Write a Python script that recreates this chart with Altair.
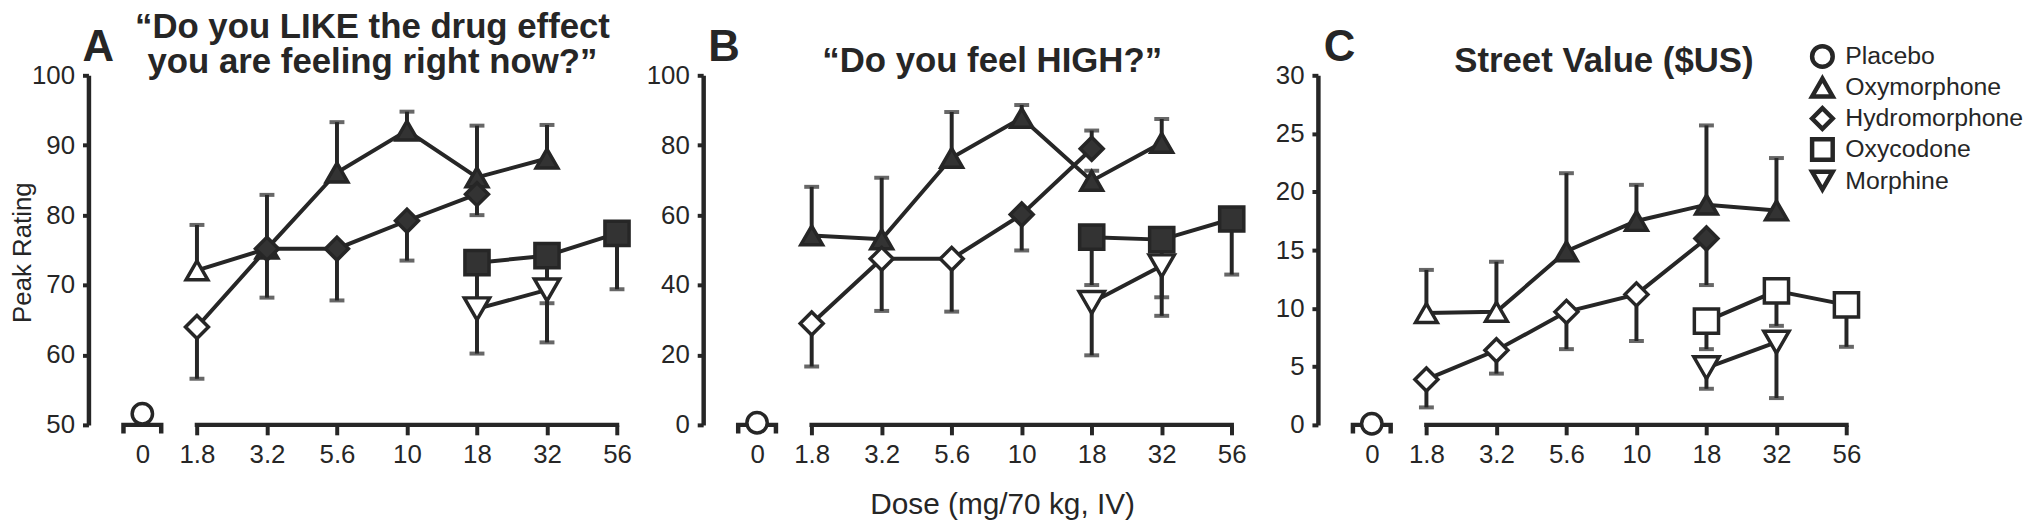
import altair as alt
import pandas as pd

FONT = "Liberation Sans"
DARK = "#262626"
FILL = "#333333"

DOSES = ["0", "1.8", "3.2", "5.6", "10", "18", "32", "56"]
DRUGS = ["Placebo", "Oxymorphone", "Hydromorphone", "Oxycodone", "Morphine"]
SHAPES = ["circle", "triangle-up", "diamond", "square", "triangle-down"]
SIZES = [420, 650, 420, 500, 650]

PLACEBO_DOSES = ["0"]
OXYM_DOSES = ["1.8", "3.2", "5.6", "10", "18", "32"]
HYDRO_DOSES = ["1.8", "3.2", "5.6", "10", "18"]
OXYC_DOSES = ["18", "32", "56"]
MORPH_DOSES = ["18", "32"]

# Panel A: "Do you LIKE the drug effect you are feeling right now?"
LIKE_PLACEBO = [51.6]
LIKE_OXYM = [72.1, 75.2, 86.1, 92.1, 85.4, 88.1]
LIKE_OXYM_ERR = [78.6, 82.9, 93.3, 94.8, 92.8, 92.9]
LIKE_OXYM_SIG = [0, 1, 1, 1, 1, 1]
LIKE_HYDRO = [64.0, 75.2, 75.2, 79.2, 83.0]
LIKE_HYDRO_ERR = [56.6, 68.2, 67.8, 73.5, 80.0]
LIKE_HYDRO_SIG = [0, 1, 1, 1, 1]
LIKE_OXYC = [73.2, 74.2, 77.4]
LIKE_OXYC_ERR = [68.0, 67.4, 69.4]
LIKE_OXYC_SIG = [1, 1, 1]
LIKE_MORPH = [66.6, 69.3]
LIKE_MORPH_ERR = [60.2, 61.8]
LIKE_MORPH_SIG = [0, 0]

# Panel B: "Do you feel HIGH?"
HIGH_PLACEBO = [0.6]
HIGH_OXYM = [54.2, 53.1, 76.4, 87.8, 69.8, 80.7]
HIGH_OXYM_ERR = [68.1, 70.7, 89.5, 91.5, 72.7, 87.5]
HIGH_OXYM_SIG = [1, 1, 1, 1, 1, 1]
HIGH_HYDRO = [29.0, 47.5, 47.5, 60.2, 79.0]
HIGH_HYDRO_ERR = [16.7, 32.6, 32.4, 49.9, 84.2]
HIGH_HYDRO_SIG = [0, 0, 0, 1, 1]
HIGH_OXYC = [53.7, 53.0, 58.9]
HIGH_OXYC_ERR = [40.0, 36.5, 43.0]
HIGH_OXYC_SIG = [1, 1, 1]
HIGH_MORPH = [35.0, 45.5]
HIGH_MORPH_ERR = [19.9, 31.2]
HIGH_MORPH_SIG = [0, 0]

# Panel C: Street Value ($US)
VALUE_PLACEBO = [0.1]
VALUE_OXYM = [9.6, 9.7, 14.9, 17.5, 18.9, 18.4]
VALUE_OXYM_ERR = [13.3, 14.0, 21.6, 20.6, 25.7, 22.9]
VALUE_OXYM_SIG = [0, 0, 1, 1, 1, 1]
VALUE_HYDRO = [3.9, 6.4, 9.7, 11.2, 16.0]
VALUE_HYDRO_ERR = [1.5, 4.4, 6.5, 7.2, 12.0]
VALUE_HYDRO_SIG = [0, 0, 0, 0, 1]
VALUE_OXYC = [8.9, 11.5, 10.3]
VALUE_OXYC_ERR = [6.5, 8.5, 6.7]
VALUE_OXYC_SIG = [0, 0, 0]
VALUE_MORPH = [4.9, 7.1]
VALUE_MORPH_ERR = [3.1, 2.3]
VALUE_MORPH_SIG = [0, 0]

W, H = 571, 352


def build(placebo, oxym, oxym_err, oxym_sig, hydro, hydro_err, hydro_sig,
          oxyc, oxyc_err, oxyc_sig, morph, morph_err, morph_sig):
    rows = []
    groups = [
        ("Placebo", PLACEBO_DOSES, placebo, placebo, [0]),
        ("Oxymorphone", OXYM_DOSES, oxym, oxym_err, oxym_sig),
        ("Hydromorphone", HYDRO_DOSES, hydro, hydro_err, hydro_sig),
        ("Oxycodone", OXYC_DOSES, oxyc, oxyc_err, oxyc_sig),
        ("Morphine", MORPH_DOSES, morph, morph_err, morph_sig),
    ]
    for drug, doses, vals, errs, sigs in groups:
        for d, v, e, s in zip(doses, vals, errs, sigs):
            rows.append(dict(drug=drug, dose=d, k=DOSES.index(d), value=v, err=e, sig=s))
    return pd.DataFrame(rows)


SHAPE_SCALE = alt.Scale(domain=DRUGS, range=SHAPES)


def panel(df, ymin, ymax, ystep, ytitle, letter, letter_dx, title_lines, title_cx,
          title_y, xtitle=None, legend=False):
    xaxis_kw = dict(
        domain=False, grid=False, labelAngle=0, ticks=True, tickSize=10, tickWidth=4,
        tickColor=DARK,
        tickOpacity=alt.condition("datum.value === '0'", alt.value(0), alt.value(1)),
        labelOffset=alt.condition("datum.value === '0'", alt.value(15.5), alt.value(0)),
        labelFontSize=26, labelFont=FONT, labelColor=DARK, labelPadding=7,
        title=xtitle,
    )
    if xtitle:
        xaxis_kw.update(titleFontSize=30, titleFont=FONT, titleFontWeight="normal",
                        titleColor=DARK, titleX=301, titleY=89,
                        titleBaseline="alphabetic", titleAlign="center")
    xaxis = alt.Axis(**xaxis_kw)
    yaxis_kw = dict(
        values=list(range(ymin, ymax + 1, ystep)), grid=False,
        domain=True, domainWidth=4.5, domainColor=DARK,
        ticks=True, tickSize=6, tickWidth=4, tickColor=DARK,
        labelFontSize=26, labelFont=FONT, labelColor=DARK, labelPadding=8,
        title=ytitle,
    )
    if ytitle:
        yaxis_kw.update(titleFontSize=26, titleFont=FONT, titleFontWeight="normal",
                        titleColor=DARK, titleX=-58, titleY=178, titleAngle=270,
                        titleBaseline="alphabetic", titleAlign="center")
    yaxis = alt.Axis(**yaxis_kw)

    xscale = alt.Scale(type="point", domain=DOSES, padding=0.55)
    yscale = alt.Scale(domain=[ymin, ymax], nice=False, zero=False)
    X = alt.X("dose:O", scale=xscale, axis=xaxis)
    Y = alt.Y("value:Q", scale=yscale, axis=yaxis)
    Yerr = alt.Y("err:Q", scale=yscale, axis=yaxis)

    shape = alt.Shape("drug:N", scale=SHAPE_SCALE, legend=None)
    size = alt.Size("drug:N", scale=alt.Scale(domain=DRUGS, range=SIZES), legend=None)
    fill = alt.Fill("sig:N", scale=alt.Scale(domain=[0, 1], range=["white", FILL]),
                    legend=None)

    base = alt.Chart(df)
    drugs_only = base.transform_filter("datum.drug !== 'Placebo'")

    axis_df = pd.DataFrame({"dose": [DOSES[1]], "dose_end": [DOSES[-1]]})
    axis_line = alt.Chart(axis_df).mark_rule(
        strokeWidth=4.5, color=DARK, strokeCap="square"
    ).encode(x=X, x2="dose_end", y=alt.value(H))

    placebo_df = pd.DataFrame({"dose": [DOSES[0]]})
    bracket = alt.Chart(placebo_df).mark_point(
        shape="M-1,0.45L-1,0L1,0L1,0.45", size=1444, strokeWidth=4.5, color=DARK,
        filled=False, opacity=1, xOffset=15.5, strokeJoin="miter"
    ).encode(x=X, y=alt.value(H))

    lines = drugs_only.mark_line(color=DARK, strokeWidth=4).encode(
        x=X, y=Y, detail="drug:N", order="k:Q")
    errs = drugs_only.mark_rule(color=DARK, strokeWidth=4).encode(x=X, y=Y, y2="err")
    caps = drugs_only.mark_tick(color=DARK, thickness=4, size=15,
                                orient="horizontal").encode(x=X, y=Yerr)
    points = drugs_only.mark_point(filled=True, opacity=1, strokeWidth=3.5,
                                   stroke=DARK).encode(
        x=X, y=Y, shape=shape, size=size, fill=fill)
    placebo = base.transform_filter("datum.drug === 'Placebo'").mark_point(
        filled=True, opacity=1, strokeWidth=3.5, stroke=DARK, xOffset=15.5
    ).encode(x=X, y=Y, shape=shape, size=size, fill=fill)

    letter_txt = alt.Chart(pd.DataFrame({"t": [letter]})).mark_text(
        align="left", baseline="alphabetic", fontSize=44, fontWeight="bold",
        font=FONT, color=DARK
    ).encode(text="t:N", x=alt.value(letter_dx), y=alt.value(-14))

    title_txt = alt.Chart(pd.DataFrame({"t": [0]})).mark_text(
        text=title_lines, align="center", baseline="top", fontSize=35,
        fontWeight="bold", font=FONT, color=DARK, lineHeight=36
    ).encode(x=alt.value(title_cx), y=alt.value(title_y))

    main = alt.layer(axis_line, bracket, lines, errs, caps, points, placebo,
                     letter_txt, title_txt)
    if not legend:
        return main.properties(width=W, height=H)

    # key of drug symbols, drawn in the top-right corner of the panel
    legend_df = pd.DataFrame({"drug": DRUGS})
    LY = alt.Y("drug:N", scale=alt.Scale(domain=DRUGS, range=[-19, 106], padding=0),
               axis=None)
    key_sym = alt.Chart(legend_df).mark_point(
        filled=True, fill="white", stroke=DARK, strokeWidth=4.5, opacity=1, size=430
    ).encode(x=alt.value(508), y=LY, shape=alt.Shape("drug:N", scale=SHAPE_SCALE,
                                                    legend=None))
    key_txt = alt.Chart(legend_df).mark_text(
        align="left", baseline="middle", fontSize=25, font=FONT, color=DARK
    ).encode(x=alt.value(531), y=LY, text="drug:N")
    return alt.layer(main, key_sym, key_txt).resolve_scale(y="independent").properties(
        width=W, height=H)


dfA = build(LIKE_PLACEBO, LIKE_OXYM, LIKE_OXYM_ERR, LIKE_OXYM_SIG,
            LIKE_HYDRO, LIKE_HYDRO_ERR, LIKE_HYDRO_SIG,
            LIKE_OXYC, LIKE_OXYC_ERR, LIKE_OXYC_SIG,
            LIKE_MORPH, LIKE_MORPH_ERR, LIKE_MORPH_SIG)
dfB = build(HIGH_PLACEBO, HIGH_OXYM, HIGH_OXYM_ERR, HIGH_OXYM_SIG,
            HIGH_HYDRO, HIGH_HYDRO_ERR, HIGH_HYDRO_SIG,
            HIGH_OXYC, HIGH_OXYC_ERR, HIGH_OXYC_SIG,
            HIGH_MORPH, HIGH_MORPH_ERR, HIGH_MORPH_SIG)
dfC = build(VALUE_PLACEBO, VALUE_OXYM, VALUE_OXYM_ERR, VALUE_OXYM_SIG,
            VALUE_HYDRO, VALUE_HYDRO_ERR, VALUE_HYDRO_SIG,
            VALUE_OXYC, VALUE_OXYC_ERR, VALUE_OXYC_SIG,
            VALUE_MORPH, VALUE_MORPH_ERR, VALUE_MORPH_SIG)

pA = panel(dfA, 50, 100, 10, "Peak Rating", "A", -6,
           ["\u201cDo you LIKE the drug effect", "you are feeling right now?\u201d"],
           286, -66)
pB = panel(dfB, 0, 100, 20, None, "B", 5, ["\u201cDo you feel HIGH?\u201d"], 291, -31,
           xtitle="Dose (mg/70 kg, IV)")
pC = panel(dfC, 0, 30, 5, None, "C", 6, ["Street Value ($US)"], 288, -31, legend=True)

chart = alt.hconcat(pA, pB, pC, spacing=48, bounds="flush").resolve_scale(
    x="independent", y="independent", shape="independent", size="independent",
    fill="independent"
).configure_view(
    stroke=None
).properties(padding={"left": 2, "right": 0, "top": 0, "bottom": 0})

chart.save("out.html", embed_options={"renderer": "svg", "actions": False})
